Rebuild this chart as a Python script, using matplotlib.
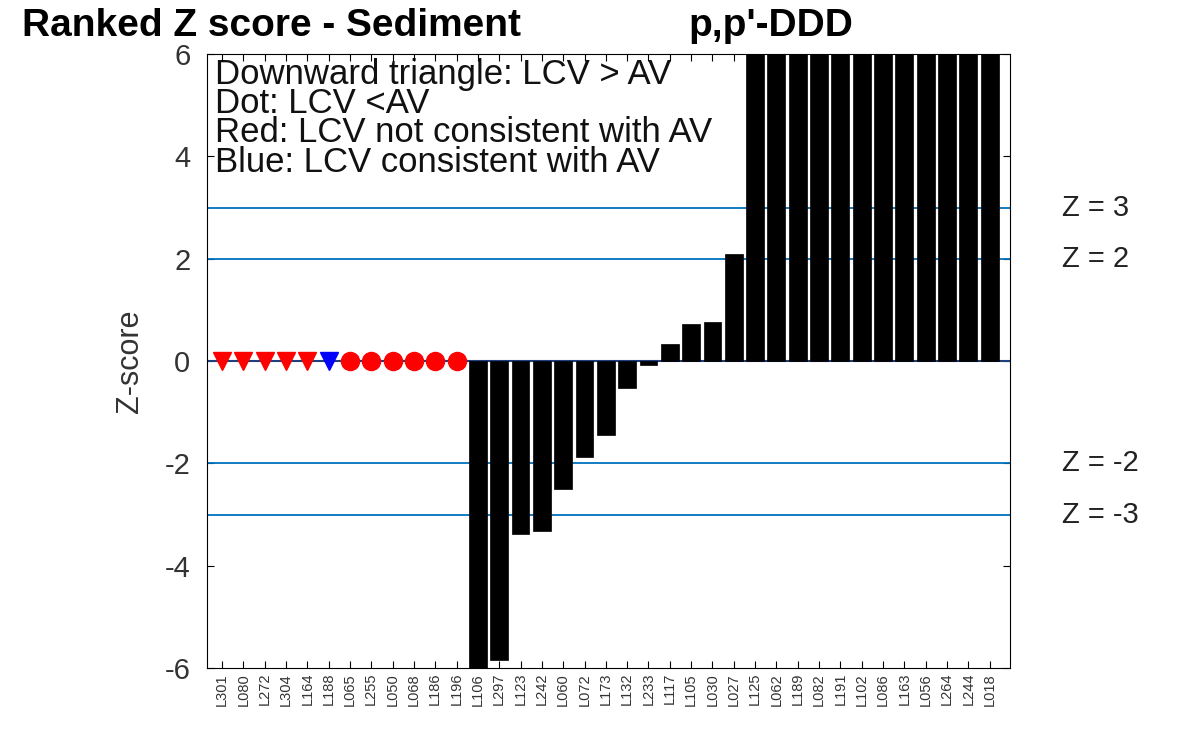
import numpy as np
import matplotlib.pyplot as plt

# lab codes, ranked
labs = ['L301', 'L080', 'L272', 'L304', 'L164', 'L188', 'L065', 'L255', 'L050',
        'L068', 'L186', 'L196', 'L106', 'L297', 'L123', 'L242', 'L060', 'L072',
        'L173', 'L132', 'L233', 'L117', 'L105', 'L030', 'L027', 'L125', 'L062',
        'L189', 'L082', 'L191', 'L102', 'L086', 'L163', 'L056', 'L264', 'L244', 'L018']

# z-scores (nan = censored value shown as a marker); off-scale bars clipped at +/-6
zscores = [np.nan] * 12 + [-6.5, -5.85, -3.39, -3.33, -2.51, -1.88, -1.45, -0.53,
                           -0.08, 0.33, 0.73, 0.76, 2.1] + [10.0] * 12

# marker type for censored labs: 'v' LCV > AV, 'o' LCV < AV
marker_kind = ['v', 'v', 'v', 'v', 'v', 'v', 'o', 'o', 'o', 'o', 'o', 'o']
# colour: red = not consistent with AV, blue = consistent
marker_col = ['red', 'red', 'red', 'red', 'red', 'blue', 'red', 'red', 'red', 'red', 'red', 'red']

z_lines = [3, 2, -2, -3]
legend_lines = ['Downward triangle: LCV > AV', 'Dot: LCV <AV',
                'Red: LCV not consistent with AV', 'Blue: LCV consistent with AV']

sans = ['Liberation Sans', 'DejaVu Sans']
line_col = '#0072BD'

fig = plt.figure(figsize=(11.77, 7.3), dpi=100)
ax = fig.add_axes([0.1759, 0.0849, 0.6822, 0.8411])

x = np.arange(1, len(labs) + 1)
ax.bar(x, zscores, width=0.84, color='black', edgecolor='black', linewidth=0.5, zorder=3)

for zl in z_lines:
    ax.axhline(zl, color=line_col, lw=1.3, zorder=2)
    ax.text(1.065, zl, 'Z = %d' % zl, transform=ax.get_yaxis_transform(),
            fontsize=21, family=sans, va='center', ha='left', color='#222222')
ax.axhline(0, color='#1f3f7f', lw=1.5, zorder=2)

for i, (mk, c) in enumerate(zip(marker_kind, marker_col)):
    ax.plot(x[i], 0, marker=mk, color=c, markersize=13, linestyle='none', zorder=4)

# legend text in one block, tight line spacing, sits behind the bars
ax.text(0.67, 5.93, '\n'.join(legend_lines), fontsize=25, family=sans, va='top', ha='left',
        zorder=1, color='#111111', linespacing=0.86)

ax.set_xlim(0.3, 37.95)
ax.set_ylim(-6, 6)
ax.set_yticks([-6, -4, -2, 0, 2, 4, 6])
ax.set_yticklabels(['-6', '-4', '-2', '0', '2', '4', '6'], fontsize=21, family=sans, color='#333333')
ax.set_xticks(x)
ax.set_xticklabels(labs, rotation=90, fontsize=10.5, family=sans, color='#333333')
ax.tick_params(direction='in', top=True, right=True, length=5)
ax.tick_params(axis='y', pad=12)
ax.set_ylabel('Z-score', fontsize=22, family=sans, color='#333333', labelpad=14)

fig.text(0.019, 0.964, 'Ranked Z score - Sediment', fontsize=28, fontweight='bold',
         family=sans, va='center', ha='left')
fig.text(0.585, 0.964, "p,p'-DDD", fontsize=28, fontweight='bold',
         family=sans, va='center', ha='left')

fig.savefig('out.png', dpi=100)
